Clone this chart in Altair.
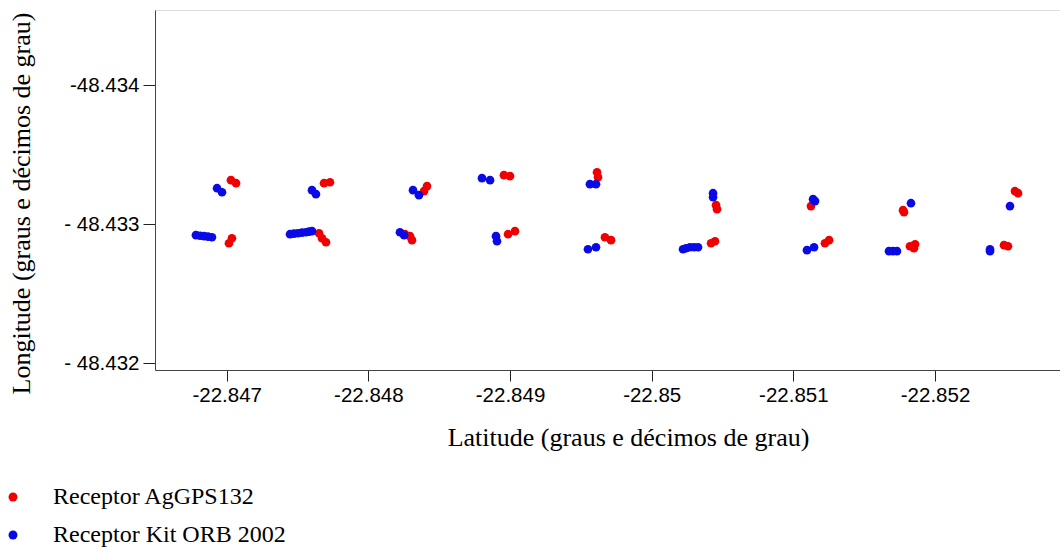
import altair as alt
import pandas as pd

# Receptor AgGPS132 (red)
red_lat = [-22.847030, -22.847066, -22.847037, -22.847016,
           -22.847687, -22.847729, -22.847652, -22.847673, -22.847701,
           -22.848393, -22.848414, -22.848294, -22.848308, -22.848259,
           -22.848957, -22.849000, -22.848986, -22.849035,
           -22.849614, -22.849621, -22.849670, -22.849713,
           -22.850454, -22.850461, -22.850419, -22.850447,
           -22.851124, -22.851223, -22.851252,
           -22.851781, -22.851774, -22.851823, -22.851859, -22.851851,
           -22.852564, -22.852586, -22.852487, -22.852515]
red_lon = [-48.433316, -48.433294, -48.432898, -48.432862,
           -48.433294, -48.433301, -48.432934, -48.432898, -48.432869,
           -48.433237, -48.433273, -48.432913, -48.432884, -48.432927,
           -48.433352, -48.433345, -48.432927, -48.432949,
           -48.433373, -48.433337, -48.432905, -48.432884,
           -48.433136, -48.433107, -48.432862, -48.432876,
           -48.433129, -48.432862, -48.432884,
           -48.433085, -48.433100, -48.432840, -48.432855, -48.432826,
           -48.433237, -48.433222, -48.432848, -48.432840]

# Receptor Kit ORB 2002 (blue)
blue_lat = [-22.846932, -22.846967, -22.846783, -22.846812, -22.846840, -22.846868, -22.846896,
            -22.847602, -22.847630, -22.847447, -22.847475, -22.847503, -22.847532,
            -22.847560, -22.847581, -22.847602,
            -22.848315, -22.848357, -22.848223, -22.848252,
            -22.848802, -22.848859, -22.848901, -22.848908,
            -22.849564, -22.849607, -22.849550, -22.849607,
            -22.850433, -22.850433, -22.850221, -22.850242, -22.850270, -22.850299, -22.850327,
            -22.851139, -22.851153, -22.851096, -22.851146,
            -22.851830, -22.851675, -22.851703, -22.851731,
            -22.852529, -22.852388, -22.852388]
blue_lon = [-48.433258, -48.433229, -48.432920, -48.432916, -48.432913, -48.432909, -48.432905,
            -48.433244, -48.433215, -48.432927, -48.432931, -48.432934, -48.432938,
            -48.432941, -48.432945, -48.432949,
            -48.433244, -48.433208, -48.432941, -48.432920,
            -48.433330, -48.433316, -48.432913, -48.432876,
            -48.433287, -48.433287, -48.432819, -48.432833,
            -48.433222, -48.433193, -48.432819, -48.432826, -48.432833, -48.432833, -48.432833,
            -48.433179, -48.433165, -48.432812, -48.432833,
            -48.433150, -48.432805, -48.432805, -48.432805,
            -48.433129, -48.432805, -48.432819]

series_names = ["Receptor AgGPS132", "Receptor Kit ORB 2002"]
series_colors = ["#f00000", "#0a0ae6"]

x_tick_values = [-22.847, -22.848, -22.849, -22.850, -22.851, -22.852]
x_tick_labels = ["-22.847", "-22.848", "-22.849", "-22.85", "-22.851", "-22.852"]
y_tick_values = [-48.434, -48.433, -48.432]
y_tick_labels = ["-48.434", "-  48.433", "-  48.432"]

x_domain = [-22.852882, -22.846494]
y_domain = [-48.43454, -48.43195]

df = pd.concat([
    pd.DataFrame({"lat": red_lat, "lon": red_lon, "serie": series_names[0]}),
    pd.DataFrame({"lat": blue_lat, "lon": blue_lon, "serie": series_names[1]}),
])


def label_expr(values, labels):
    parts = []
    for v, l in zip(values, labels):
        parts.append(f"abs(datum.value - ({v})) < 1e-7 ? '{l}'")
    return " : ".join(parts) + " : ''"


sans = "Liberation Sans"
serif = "Liberation Serif"

chart = alt.Chart(df).mark_circle(size=75, opacity=1).encode(
    x=alt.X("lat:Q",
            scale=alt.Scale(domain=x_domain, reverse=True, nice=False, zero=False),
            axis=alt.Axis(values=x_tick_values,
                          labelExpr=label_expr(x_tick_values, x_tick_labels),
                          title="Latitude (graus e décimos de grau)",
                          titleFont=serif, titleFontSize=26, titleFontWeight="normal",
                          titleColor="black",
                          titleX=473, titleY=75, titleBaseline="alphabetic",
                          titleAlign="center",
                          labelFont=sans, labelFontSize=20.5, labelColor="black",
                          labelPadding=4, tickSize=11, tickColor="#222",
                          domainColor="#444", grid=False, labelFlush=False,
                          labelOverlap=False)),
    y=alt.Y("lon:Q",
            scale=alt.Scale(domain=y_domain, reverse=True, nice=False, zero=False),
            axis=alt.Axis(values=y_tick_values,
                          labelExpr=label_expr(y_tick_values, y_tick_labels),
                          title="Longitude (graus e décimos de grau)",
                          titleFont=serif, titleFontSize=26, titleFontWeight="normal",
                          titleColor="black",
                          titleX=-134, titleY=193, titleAngle=-90,
                          titleBaseline="middle", titleAlign="center",
                          labelFont=sans, labelFontSize=20.5, labelColor="black",
                          labelPadding=4, tickSize=12, tickColor="#222",
                          domainColor="#444", grid=False, labelFlush=False,
                          labelOverlap=False)),
    color=alt.Color("serie:N",
                    scale=alt.Scale(domain=series_names, range=series_colors),
                    title=None,
                    legend=alt.Legend(orient="none", legendX=-154, legendY=475,
                                      direction="vertical", symbolType="circle",
                                      symbolSize=80, symbolStrokeWidth=0,
                                      labelFont=serif, labelFontSize=24,
                                      labelColor="black", labelOffset=28,
                                      labelLimit=0,
                                      rowPadding=14, padding=0)),
).properties(
    width=905, height=360,
    padding={"left": 155, "top": 10, "right": 0, "bottom": 180},
    autosize="none",
).configure_view(stroke=None).configure(background="white")

chart.save("out.html", embed_options={"renderer": "svg", "actions": False})
